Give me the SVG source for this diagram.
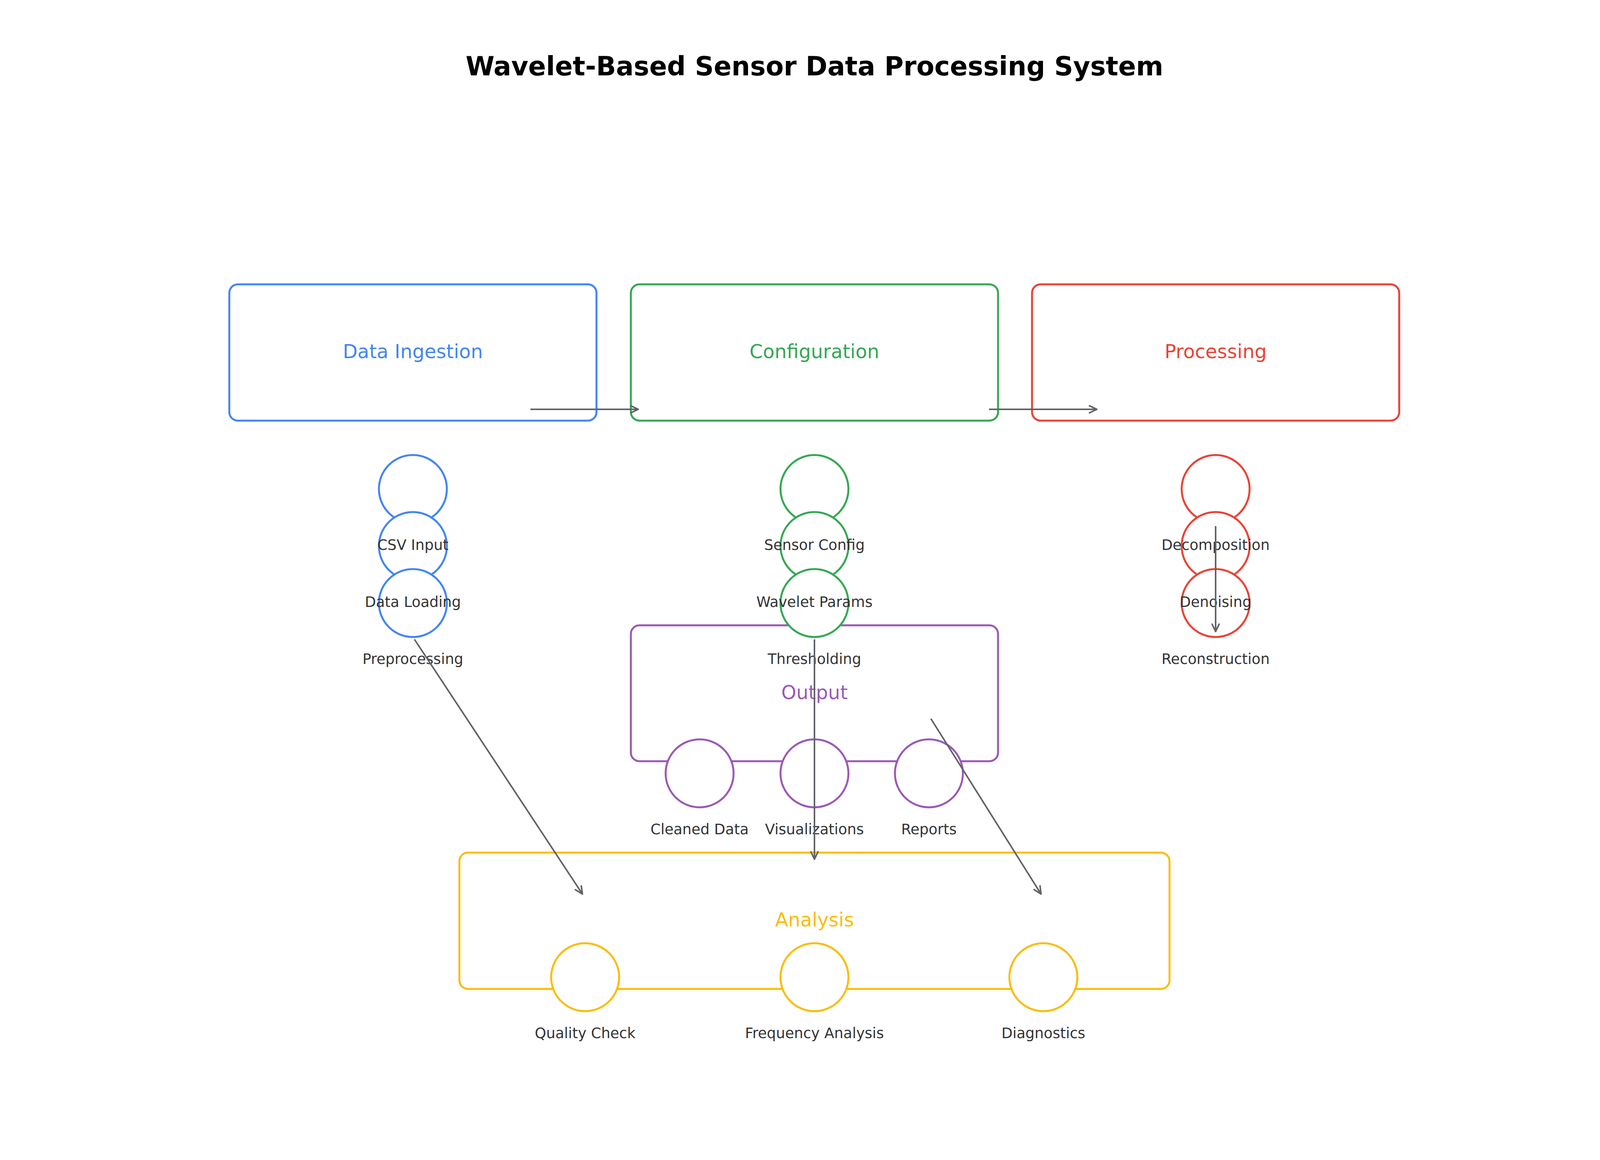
<svg xmlns="http://www.w3.org/2000/svg" width="4170" height="2970" viewBox="0 0 4170 2970">
<defs>
<style>
.title{font-family:"DejaVu Sans","Liberation Sans",sans-serif;font-size:67px;font-weight:bold;fill:#000;text-anchor:middle}
.box{fill:#fff;stroke-width:5}
.blabel{font-family:"DejaVu Sans","Liberation Sans",sans-serif;font-size:49px;text-anchor:middle}
.node{fill:#fff;stroke-width:5}
.nlabel{font-family:"DejaVu Sans","Liberation Sans",sans-serif;font-size:37px;fill:#333;text-anchor:middle}
.blue{stroke:#4285F4}.tblue{fill:#4285F4}
.green{stroke:#34A853}.tgreen{fill:#34A853}
.red{stroke:#EA4335}.tred{fill:#EA4335}
.purple{stroke:#9B59B6}.tpurple{fill:#9B59B6}
.yellow{stroke:#FBBC04}.tyellow{fill:#FBBC04}
.edge{stroke:#5F6368;stroke-width:4;fill:none;marker-end:url(#arr)}
</style>
<marker id="arr" markerUnits="userSpaceOnUse" markerWidth="30" markerHeight="30" viewBox="0 0 30 30" refX="24" refY="15" orient="auto">
<path d="M5,6 L24,15 L5,24" fill="none" stroke="#5F6368" stroke-width="4" stroke-linecap="round" stroke-linejoin="round"/>
</marker>
</defs>
<rect width="4170" height="2970" fill="#fff"/>
<text class="title" x="2085" y="193">Wavelet-Based Sensor Data Processing System</text>

<g id="cluster-ingestion">
<rect class="box blue" x="587" y="728" width="940" height="349" rx="22"/>
<text class="blabel tblue" x="1057" y="917">Data Ingestion</text>
</g>
<g id="cluster-configuration">
<rect class="box green" x="1615" y="728" width="940" height="349" rx="22"/>
<text class="blabel tgreen" x="2085" y="917">Configuration</text>
</g>
<g id="cluster-processing">
<rect class="box red" x="2642" y="728" width="940" height="349" rx="22"/>
<text class="blabel tred" x="3112" y="917">Processing</text>
</g>
<g id="cluster-output">
<rect class="box purple" x="1615" y="1601" width="940" height="348" rx="22"/>
<text class="blabel tpurple" x="2085" y="1790">Output</text>
</g>
<g id="cluster-analysis">
<rect class="box yellow" x="1176" y="2183" width="1818" height="349" rx="22"/>
<text class="blabel tyellow" x="2085" y="2372">Analysis</text>
</g>

<g id="csv-input"><circle class="node blue" cx="1057" cy="1252" r="87"/></g>
<g id="data-loading"><circle class="node blue" cx="1057" cy="1398" r="87"/></g>
<g id="preprocessing"><circle class="node blue" cx="1057" cy="1544" r="87"/></g>

<g id="sensor-config"><circle class="node green" cx="2085" cy="1252" r="87"/></g>
<g id="wavelet-params"><circle class="node green" cx="2085" cy="1398" r="87"/></g>
<g id="thresholding"><circle class="node green" cx="2085" cy="1544" r="87"/></g>

<g id="decomposition"><circle class="node red" cx="3112" cy="1252" r="87"/></g>
<g id="denoising"><circle class="node red" cx="3112" cy="1398" r="87"/></g>
<g id="reconstruction"><circle class="node red" cx="3112" cy="1544" r="87"/></g>

<g id="cleaned-data"><circle class="node purple" cx="1791" cy="1980" r="87"/></g>
<g id="visualizations"><circle class="node purple" cx="2085" cy="1980" r="87"/></g>
<g id="reports"><circle class="node purple" cx="2378" cy="1980" r="87"/></g>

<g id="quality-check"><circle class="node yellow" cx="1498" cy="2502" r="87"/></g>
<g id="frequency-analysis"><circle class="node yellow" cx="2085" cy="2502" r="87"/></g>
<g id="diagnostics"><circle class="node yellow" cx="2671" cy="2502" r="87"/></g>

<g id="node-labels">
<text class="nlabel" x="1057" y="1408">CSV Input</text>
<text class="nlabel" x="1057" y="1554">Data Loading</text>
<text class="nlabel" x="1057" y="1700">Preprocessing</text>
<text class="nlabel" x="2085" y="1408">Sensor Config</text>
<text class="nlabel" x="2085" y="1554">Wavelet Params</text>
<text class="nlabel" x="2085" y="1700">Thresholding</text>
<text class="nlabel" x="3112" y="1408">Decomposition</text>
<text class="nlabel" x="3112" y="1554">Denoising</text>
<text class="nlabel" x="3112" y="1700">Reconstruction</text>
<text class="nlabel" x="1791" y="2136">Cleaned Data</text>
<text class="nlabel" x="2085" y="2136">Visualizations</text>
<text class="nlabel" x="2378" y="2136">Reports</text>
<text class="nlabel" x="1498" y="2658">Quality Check</text>
<text class="nlabel" x="2085" y="2658">Frequency Analysis</text>
<text class="nlabel" x="2671" y="2658">Diagnostics</text>
</g>

<g id="connectors">
<line class="edge" x1="1358" y1="1048" x2="1634" y2="1048"/>
<line class="edge" x1="2532" y1="1048" x2="2808" y2="1048"/>
<line class="edge" x1="3112" y1="1347" x2="3112" y2="1617"/>
<line class="edge" x1="1061" y1="1637" x2="1491" y2="2289"/>
<line class="edge" x1="2085" y1="1637" x2="2085" y2="2200"/>
<line class="edge" x1="2383" y1="1840" x2="2665" y2="2289"/>
</g>
</svg>
